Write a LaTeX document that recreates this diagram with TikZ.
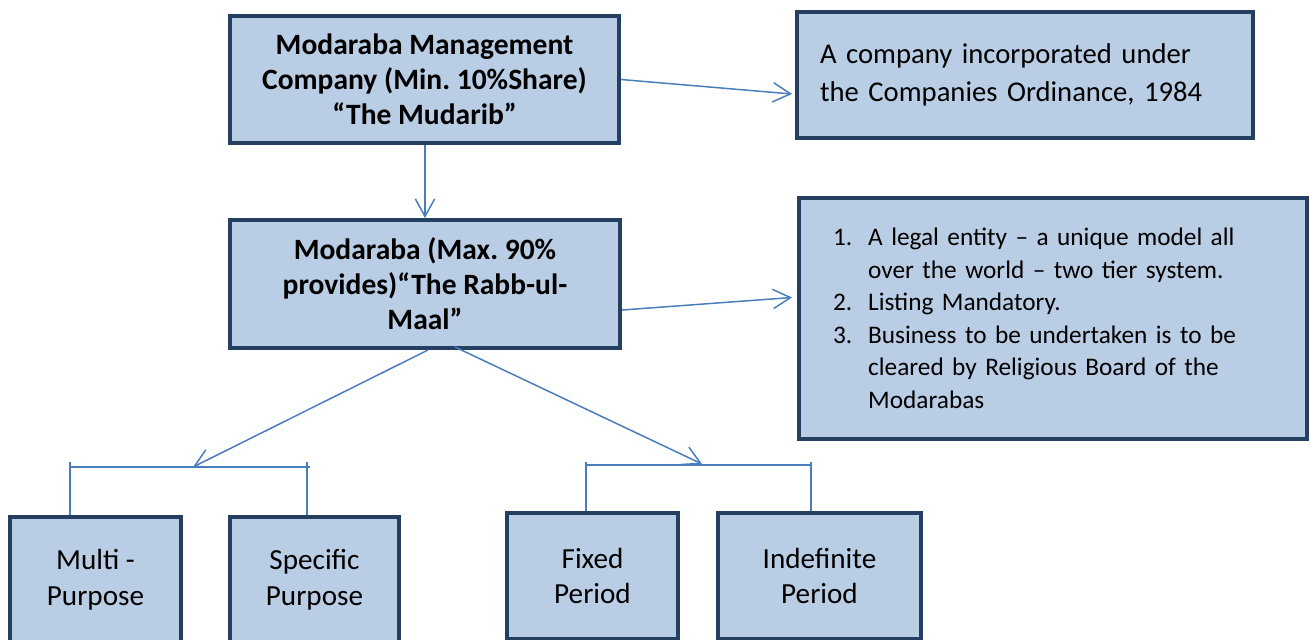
\documentclass[tikz,border=0pt]{standalone}
\usepackage{fontspec}
\setmainfont{Carlito}
\usepackage{tikz}
\usetikzlibrary{arrows.meta,calc}
\definecolor{boxline}{HTML}{243F60}
\definecolor{boxfill}{HTML}{B9CDE5}
\definecolor{arrowblue}{HTML}{4A7EBB}
\frenchspacing

\begin{document}
\begin{tikzpicture}[x=0.02cm, y=-0.02cm, >={Straight Barb[length=10pt, width=11pt]},
	box/.style={draw=boxline, fill=boxfill, line width=2.3pt, inner sep=0pt, align=center,
		font=\fontsize{16.6}{20.4}\selectfont},
	link/.style={draw=arrowblue, line width=0.85pt}]
	\useasboundingbox (0, 0) rectangle (1310, 639);

	\node[box, minimum width=7.78cm, minimum height=2.54cm, font=\bfseries\fontsize{16.8}{19.9}\selectfont]
		(mudarib) at (424.5, 79.5) {Modaraba Management\\Company (Min. 10\%Share)\\``The Mudarib''};
	\node[box, minimum width=9.12cm, minimum height=2.52cm, inner xsep=0.46cm, text width=8.2cm, align=left,
		font=\fontsize{16.3}{21.5}\selectfont]
		(ordinance) at (1025, 75) {A company incorporated under\\the Companies Ordinance, 1984};

	\node[box, minimum width=7.8cm, minimum height=2.56cm, font=\bfseries\fontsize{16.8}{19.9}\selectfont]
		(modaraba) at (425, 284) {Modaraba (Max. 90\%\\provides)``The Rabb-ul-\\Maal''};
	\node[box, minimum width=10.16cm, minimum height=4.82cm, inner xsep=0.68cm, text width=8.8cm, align=left,
		font=\fontsize{14.4}{18.5}\selectfont]
		(features) at (1053, 318.5) {%
		\makebox[20pt][l]{1.}A legal entity -- a unique model all\\
		\makebox[20pt][l]{}over the world -- two tier system.\\
		\makebox[20pt][l]{2.}Listing Mandatory.\\
		\makebox[20pt][l]{3.}Business to be undertaken is to be\\
		\makebox[20pt][l]{}cleared by Religious Board of the\\
		\makebox[20pt][l]{}Modarabas};

	\node[box, minimum width=3.42cm, minimum height=2.52cm] (multi) at (95.5, 580) {Multi -\\Purpose};
	\node[box, minimum width=3.38cm, minimum height=2.52cm] (specific) at (314.5, 580) {Specific\\Purpose};
	\node[box, minimum width=3.42cm, minimum height=2.52cm] (fixed) at (592.5, 576) {Fixed\\Period};
	\node[box, minimum width=4.06cm, minimum height=2.52cm] (indefinite) at (819.5, 576) {Indefinite\\Period};

	\coordinate (leftjoin) at (193, 467);
	\coordinate (rightjoin) at (702, 464);

	\draw[link, ->] (modaraba.north |- mudarib.south) -- (modaraba.north);
	\draw[link, ->] (mudarib.east) -- ($(ordinance.west)+(-3, 19)$);
	\draw[link, ->] ($(modaraba.east)+(0, 26)$) -- ($(features.west)+(-5, -21)$);
	\draw[link, ->] ($(modaraba.south)+(3, 0)$) -- (leftjoin);
	\draw[link, ->] ($(modaraba.south)+(30, -3)$) -- (rightjoin);

	\draw[link] (70, 467) -- (310, 467);
	\draw[link] (70, 462) -- (70, 462 |- multi.north);
	\draw[link] (307, 462) -- (307, 462 |- specific.north);

	\draw[link] (586, 465) -- (811, 465);
	\draw[link] (586, 462) -- (586, 462 |- fixed.north);
	\draw[link] (811, 462) -- (811, 462 |- indefinite.north);
\end{tikzpicture}
\end{document}
